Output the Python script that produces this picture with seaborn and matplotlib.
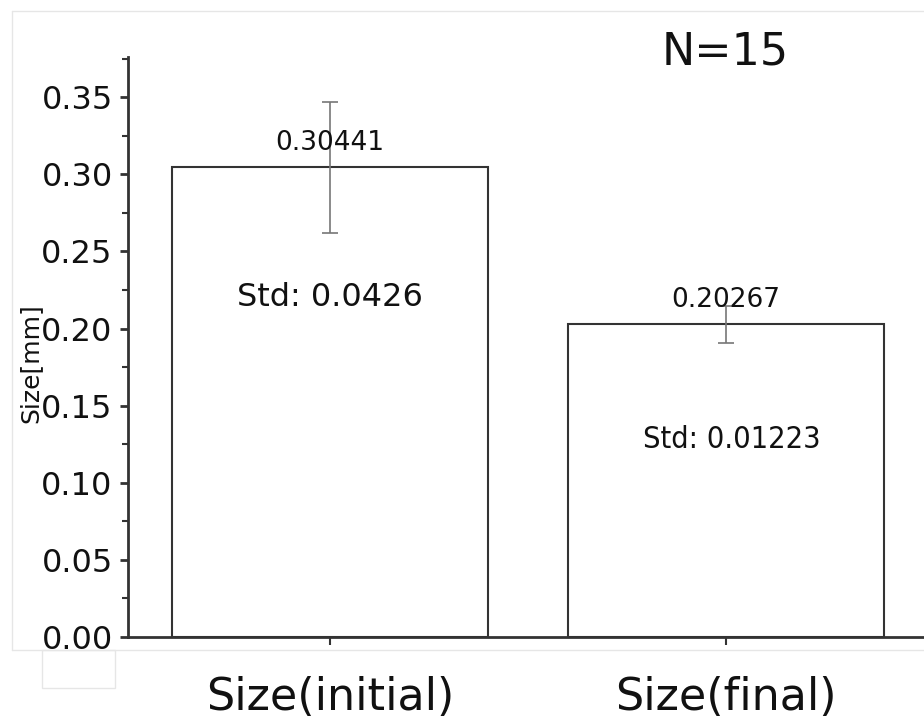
import matplotlib
matplotlib.use('Agg')
import matplotlib.pyplot as plt
from matplotlib.lines import Line2D
from matplotlib.patches import Rectangle
from matplotlib.ticker import MultipleLocator
import pandas as pd
import seaborn as sns

# values
categories = ['Size(initial)', 'Size(final)']
means = [0.30441, 0.20267]
stds = [0.0426, 0.01223]
mean_labels = ['0.30441', '0.20267']
std_labels = ['Std: 0.0426', 'Std: 0.01223']
n_label = 'N=15'

df = pd.DataFrame({'group': categories, 'size': means, 'std': stds})

sns.set_theme(style='white')
plt.rcParams['font.family'] = ['DejaVu Sans']
plt.rcParams['text.color'] = '#111111'
plt.rcParams['xtick.labelcolor'] = '#111111'
plt.rcParams['ytick.labelcolor'] = '#111111'
plt.rcParams['axes.labelcolor'] = '#111111'

fig = plt.figure(figsize=(9.24, 7.21), dpi=100)
ax = fig.add_axes([0.1385, 0.1165, 0.8615, 0.8044])

sns.barplot(data=df, x='group', y='size', color='white', edgecolor='#333333',
            linewidth=1.5, width=0.8, errorbar=None, saturation=1, ax=ax)
ax.errorbar(range(len(means)), df['size'], yerr=df['std'], fmt='none',
            ecolor='#777777', elinewidth=1.2, capsize=6, capthick=1.2)

# value and std labels
for i, (m, lab) in enumerate(zip(means, mean_labels)):
    ax.text(i, m + 0.016, lab, ha='center', va='center', fontsize=19)
ax.text(0, 0.2198, std_labels[0], ha='center', va='center', fontsize=23)
ax.text(1.015, 0.1278, std_labels[1], ha='center', va='center', fontsize=22,
        fontstretch='condensed')

fig.text(0.785, 0.928, n_label, ha='center', va='center', fontsize=32)

ax.set_xlim(-0.51, 1.5)
ax.set_ylim(0, 0.376)
ax.yaxis.set_major_locator(MultipleLocator(0.05))
ax.yaxis.set_minor_locator(MultipleLocator(0.025))
ax.yaxis.set_major_formatter(matplotlib.ticker.FormatStrFormatter('%.2f'))

for side in ['top', 'right']:
    ax.spines[side].set_visible(False)
for side in ['left', 'bottom']:
    ax.spines[side].set_color('#333333')
    ax.spines[side].set_linewidth(2)

ax.tick_params(axis='y', which='major', direction='out', length=6, width=2,
               color='#333333', labelsize=23, pad=5, left=True)
ax.tick_params(axis='y', which='minor', direction='out', length=4, width=1.5,
               color='#333333', left=True)
ax.tick_params(axis='x', which='major', direction='out', length=6, width=1.5,
               color='#333333', labelsize=32, pad=22, bottom=True)

ax.set_xlabel('')
ax.set_ylabel('Size[mm]', fontsize=18)
ax.yaxis.set_label_coords(-0.108, 0.472)

# faint frame lines from the original screenshot
fig.add_artist(Line2D([12 / 924, 1], [1 - 11 / 721, 1 - 11 / 721], color='#e6e6e6', lw=1))
fig.add_artist(Line2D([12 / 924, 12 / 924], [1 - 11 / 721, 1 - 650 / 721], color='#e6e6e6', lw=1))
fig.add_artist(Line2D([12 / 924, 1], [1 - 650 / 721, 1 - 650 / 721], color='#e6e6e6', lw=1))
fig.add_artist(Rectangle((42 / 924, 1 - 688 / 721), 73 / 924, 38 / 721, fill=False,
                         edgecolor='#e6e6e6', lw=1, transform=fig.transFigure))

fig.savefig('out.png', dpi=100, facecolor='white')
